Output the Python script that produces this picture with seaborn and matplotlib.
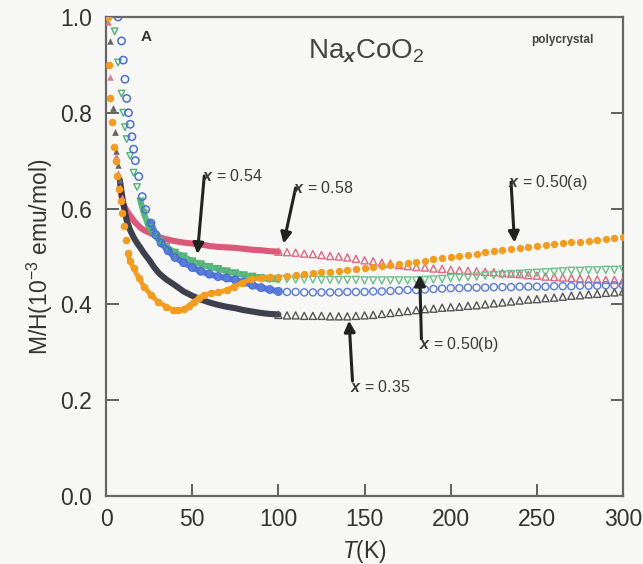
import numpy as np
import matplotlib
matplotlib.use("Agg")
import matplotlib.pyplot as plt
import seaborn as sns

# ---------------- data ----------------
T_high = list(range(100, 301, 5))

# x = 0.54 (red)
T_red_low = [1, 2.5, 4, 5, 6, 7, 8, 9, 10, 12, 14, 16, 18, 20, 22, 25, 28, 31, 35, 40, 45, 50,
             55, 60, 65, 70, 75, 80, 85, 90, 95, 100]
red_low = [0.99, 0.875, 0.81, 0.76, 0.71, 0.675, 0.645, 0.625, 0.61, 0.595, 0.585, 0.575, 0.567,
           0.56, 0.555, 0.55, 0.545, 0.54, 0.536, 0.532, 0.529, 0.527, 0.525, 0.522, 0.52,
           0.519, 0.518, 0.516, 0.514, 0.513, 0.511, 0.51]
red_high = [0.510, 0.509, 0.508, 0.506, 0.505, 0.503, 0.501, 0.500, 0.498, 0.495, 0.492,
            0.490, 0.487, 0.485, 0.482, 0.480, 0.478, 0.477, 0.475, 0.474, 0.472, 0.471,
            0.470, 0.469, 0.468, 0.467, 0.465, 0.464, 0.463, 0.461, 0.460, 0.458, 0.457,
            0.456, 0.455, 0.454, 0.453, 0.452, 0.451, 0.451, 0.450]

# x = 0.58 (green)
T_green_low = [5, 7, 9, 10, 11, 12, 14, 16, 18, 20, 22, 25, 28, 31, 35, 40, 45, 50,
               55, 60, 65, 70, 75, 80, 85, 90, 95, 100]
green_low = [0.97, 0.905, 0.84, 0.80, 0.77, 0.745, 0.71, 0.675, 0.645, 0.615,
             0.59, 0.56, 0.545, 0.533, 0.52, 0.508, 0.50, 0.49, 0.484, 0.478, 0.474, 0.469,
             0.465, 0.461, 0.458, 0.455, 0.453, 0.452]
green_high = [0.453, 0.453, 0.452, 0.452, 0.452, 0.451, 0.451, 0.451, 0.451, 0.451, 0.450,
              0.450, 0.450, 0.450, 0.450, 0.450, 0.450, 0.451, 0.452, 0.453, 0.455, 0.456,
              0.457, 0.458, 0.460, 0.461, 0.462, 0.463, 0.464, 0.465, 0.466, 0.467, 0.468,
              0.469, 0.470, 0.470, 0.471, 0.471, 0.472, 0.472, 0.473]

# blue (open circles)
T_blue_low = [7, 9, 10, 11, 12, 13, 14, 15, 16, 17, 19, 21, 23, 26, 29, 32, 36, 40, 45,
              50, 55, 60, 65, 70, 75, 80, 85, 90, 95, 100]
blue_low = [1.0, 0.95, 0.91, 0.87, 0.83, 0.80, 0.776, 0.75, 0.724, 0.70, 0.667, 0.625,
            0.598, 0.57, 0.545, 0.528, 0.512, 0.498, 0.487, 0.477, 0.469, 0.463, 0.458, 0.455,
            0.451, 0.446, 0.44, 0.435, 0.431, 0.427]
blue_high = [0.427, 0.426, 0.426, 0.425, 0.425, 0.425, 0.425, 0.425, 0.426, 0.426, 0.426,
             0.427, 0.427, 0.428, 0.429, 0.430, 0.430, 0.431, 0.432, 0.433, 0.434, 0.434,
             0.435, 0.435, 0.435, 0.436, 0.436, 0.436, 0.437, 0.437, 0.437, 0.437, 0.438,
             0.438, 0.438, 0.439, 0.439, 0.439, 0.440, 0.440, 0.440]

# x = 0.50(a) (orange)
T_orange_low = [1, 1.5, 2.5, 3.5, 4.5, 5.5, 6.5, 7.5, 8.5, 9.5, 10.5, 11.5, 12.5, 14, 16, 19,
                22, 26, 30, 35, 39, 42, 45, 48, 51, 54, 57, 61, 65, 70, 74, 79, 84, 90, 95]
orange_low = [1.0, 0.90, 0.83, 0.78, 0.728, 0.70, 0.667, 0.64, 0.615, 0.59, 0.563, 0.535,
              0.508, 0.49, 0.475, 0.455, 0.437, 0.42, 0.406, 0.395, 0.389, 0.388, 0.39,
              0.397, 0.406, 0.414, 0.42, 0.423, 0.425, 0.43, 0.437, 0.445, 0.452, 0.455,
              0.457]
orange_high = [0.458, 0.460, 0.461, 0.463, 0.465, 0.467, 0.468, 0.470, 0.472, 0.474, 0.476,
               0.478, 0.480, 0.482, 0.484, 0.487, 0.489, 0.491, 0.494, 0.496, 0.499, 0.501,
               0.504, 0.506, 0.509, 0.511, 0.513, 0.516, 0.518, 0.520, 0.522, 0.524, 0.526,
               0.528, 0.530, 0.531, 0.533, 0.535, 0.537, 0.538, 0.540]

# x = 0.35 (black / gray)
T_black_low = [2.5, 4, 5, 6, 7, 8, 9, 10, 12, 14, 16, 18, 20, 22, 25, 28, 31, 35, 40, 45,
               50, 55, 60, 65, 70, 75, 80, 85, 90, 95, 100]
black_low = [0.95, 0.81, 0.76, 0.72, 0.69, 0.66, 0.635, 0.61, 0.575, 0.555, 0.54, 0.528,
             0.518, 0.507, 0.493, 0.477, 0.464, 0.452, 0.44, 0.427, 0.418, 0.41, 0.404,
             0.399, 0.395, 0.392, 0.388, 0.385, 0.382, 0.38, 0.379]
black_high = [0.378, 0.377, 0.377, 0.376, 0.376, 0.376, 0.375, 0.375, 0.375, 0.376, 0.377,
              0.378, 0.380, 0.382, 0.384, 0.386, 0.388, 0.390, 0.391, 0.393, 0.394, 0.395,
              0.397, 0.398, 0.400, 0.402, 0.404, 0.406, 0.408, 0.410, 0.411, 0.413, 0.414,
              0.416, 0.418, 0.419, 0.421, 0.422, 0.424, 0.425, 0.427]

x_ticks = [0, 50, 100, 150, 200, 250, 300]
y_ticks = [0.0, 0.2, 0.4, 0.6, 0.8, 1.0]

# ---------------- style ----------------
sns.set_style("ticks")
plt.rcParams["font.family"] = ["Liberation Sans", "DejaVu Sans"]
plt.rcParams["mathtext.fontset"] = "custom"
plt.rcParams["mathtext.rm"] = "Liberation Sans"
plt.rcParams["mathtext.it"] = "Liberation Sans:italic"
plt.rcParams["mathtext.bf"] = "Liberation Sans:bold:italic"

BG = "#f7f7f5"
C_RED = "#d9456a"
C_GREEN = "#4fb276"
C_BLUE = "#4a6fd6"
C_ORANGE = "#f39c1f"
C_BLACK = "#2a2c3c"
C_GRAY = "#555555"

fig = plt.figure(figsize=(6.43, 5.64), dpi=100, facecolor=BG)
ax = fig.add_axes([0.1649, 0.1206, 0.8041, 0.8493])
ax.set_facecolor(BG)

def sel(Tl, vl, tmin):
    return ([t for t in Tl if t >= tmin], [v for t, v in zip(Tl, vl) if t >= tmin])

# dense low-temperature traces
for Tl, vl, c, tmin in [
    (T_red_low, red_low, C_RED, 8),
    (T_green_low, green_low, C_GREEN, 20),
    (T_blue_low, blue_low, C_BLUE, 26),
    (T_black_low, black_low, C_BLACK, 8),
]:
    xs, ys = sel(Tl, vl, tmin)
    sns.lineplot(x=xs, y=ys, ax=ax, color=c, lw=4.4, alpha=0.9, zorder=3,
                 solid_capstyle="round")

# low-temperature individual markers
sns.scatterplot(x=T_green_low, y=green_low, ax=ax, marker="v", s=22,
                facecolor="none", edgecolor=C_GREEN, linewidth=1.0, zorder=4)
sns.scatterplot(x=T_blue_low, y=blue_low, ax=ax, marker="o", s=28,
                facecolor="none", edgecolor=C_BLUE, linewidth=1.1, zorder=4)
sns.scatterplot(x=T_red_low[:8], y=red_low[:8], ax=ax, marker="^", s=22,
                color="#e07a90", linewidth=0, zorder=4)
sns.scatterplot(x=T_black_low[:6], y=black_low[:6], ax=ax, marker="^", s=22,
                color="#666666", linewidth=0, zorder=4)

# orange: filled dots throughout
sns.scatterplot(x=T_orange_low, y=orange_low, ax=ax, marker="o", s=30,
                color=C_ORANGE, linewidth=0, zorder=5)
xs, ys = sel(T_orange_low, orange_low, 12)
sns.lineplot(x=xs, y=ys, ax=ax, color=C_ORANGE, lw=3.4, zorder=5)
sns.scatterplot(x=T_high, y=orange_high, ax=ax, marker="o", s=28,
                color=C_ORANGE, linewidth=0, zorder=5)

# high-temperature open markers
sns.scatterplot(x=T_high, y=red_high, ax=ax, marker="^", s=26,
                facecolor="none", edgecolor="#e0677f", linewidth=1.0, zorder=4)
sns.scatterplot(x=T_high, y=green_high, ax=ax, marker="v", s=26,
                facecolor="none", edgecolor="#6cbf8a", linewidth=1.0, zorder=4)
sns.scatterplot(x=T_high, y=blue_high, ax=ax, marker="o", s=26,
                facecolor="none", edgecolor="#5a7bd8", linewidth=1.0, zorder=4)
sns.scatterplot(x=T_high, y=black_high, ax=ax, marker="^", s=26,
                facecolor="none", edgecolor=C_GRAY, linewidth=1.0, zorder=4)

# ---------------- axes ----------------
ax.set_xlim(0, 300)
ax.set_ylim(0, 1.0)
ax.set_xticks(x_ticks)
ax.set_yticks(y_ticks)
ax.set_yticklabels([f"{v:.1f}" for v in y_ticks])
ax.tick_params(axis="both", direction="in", length=9, width=1.3, color="#555555",
               labelsize=16.5, labelcolor="#333333")
ax.tick_params(axis="x", pad=9)
ax.tick_params(axis="y", right=True, left=True, pad=10)
for s in ax.spines.values():
    s.set_visible(True)
    s.set_color("#666666")
    s.set_linewidth(1.6)

ax.set_xlabel("$T$(K)", fontsize=16.5, color="#333333", labelpad=5)
ax.set_ylabel("M/H(10$^{-3}$ emu/mol)", fontsize=16.5, color="#333333", labelpad=4)

# ---------------- texts ----------------
ax.text(23, 0.958, "A", fontsize=11, fontweight="bold", color="#333333",
        ha="center", va="center")
ax.text(151, 0.928, r"Na$_{\mathbf{x}}$CoO$_2$", fontsize=20, color="#444444",
        ha="center", va="center")
ax.text(265, 0.951, "polycrystal", fontsize=8.5, fontweight="bold", color="#444444",
        ha="center", va="center")

arrow = dict(arrowstyle="-|>", lw=2.2, color="#222222", mutation_scale=16,
             shrinkA=0, shrinkB=0)
annots = [
    (r"$\mathbf{x}$ = 0.54", (53, 0.505), (57, 0.668), 0.0),
    (r"$\mathbf{x}$ = 0.58", (103, 0.527), (110, 0.643), 0.0),
    (r"$\mathbf{x}$ = 0.50(a)", (237, 0.529), (235, 0.655), 0.0),
    (r"$\mathbf{x}$ = 0.35", (141, 0.366), (143, 0.24), -0.012),
    (r"$\mathbf{x}$ = 0.50(b)", (182, 0.462), (183, 0.328), -0.012),
]
for label, tip, tail, dy in annots:
    ax.annotate("", xy=tip, xytext=tail, arrowprops=arrow, zorder=6)
    ax.text(tail[0] - 1.5, tail[1] + dy, label, fontsize=11.5, color="#3a3a3a",
            ha="left", va="center", zorder=7)

fig.savefig("out.png", dpi=100, facecolor=BG)
